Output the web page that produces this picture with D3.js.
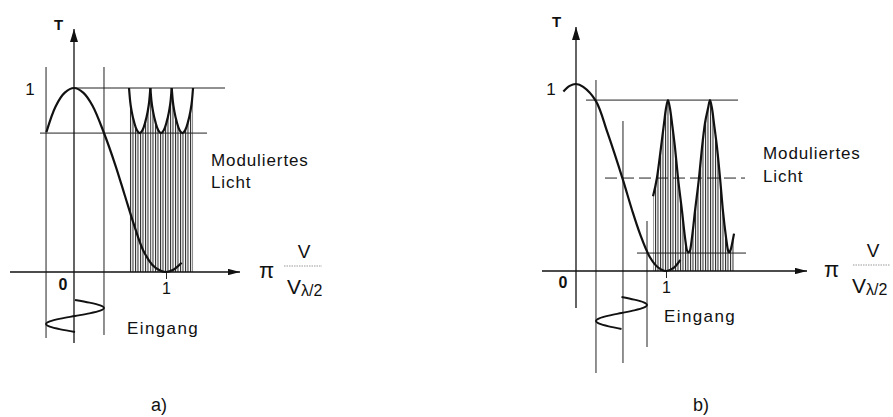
<!DOCTYPE html>
<html>
<head>
<meta charset="utf-8">
<script src="https://cdn.jsdelivr.net/npm/d3@7"></script>
<style>
  body { margin: 0; background: #fff; }
  text { font-family: "Liberation Sans", Arial, sans-serif; fill: #111; }
</style>
</head>
<body>
<div id="chart"></div>
<script>
// transfer curve T(u), u = pi V / V_lambda/2
var curveA = [[-0.30, 0.76], [-0.2, 0.9], [-0.1, 0.975], [0, 1], [0.1, 0.975], [0.2, 0.905],
  [0.33, 0.75], [0.45, 0.58], [0.55, 0.42], [0.65, 0.26], [0.75, 0.12], [0.85, 0.04],
  [0.93, 0.01], [1.0, 0], [1.08, 0.012], [1.17, 0.05]];
var curveB = [[-0.14, 0.96], [-0.07, 0.99], [0, 1], [0.08, 0.985], [0.22, 0.91], [0.35, 0.74],
  [0.52, 0.49], [0.62, 0.33], [0.71, 0.2], [0.82, 0.075], [0.91, 0.02], [1.0, 0],
  [1.08, 0.015], [1.16, 0.06]];

// modulated light, a): three arcs between the cusps
var lightA = [
  [[0.598, 1], [0.610, 0.93], [0.628, 0.87], [0.656, 0.81], [0.684, 0.77], [0.714, 0.755],
   [0.744, 0.77], [0.772, 0.81], [0.800, 0.87], [0.818, 0.93], [0.830, 1]],
  [[0.830, 1], [0.842, 0.93], [0.860, 0.87], [0.888, 0.81], [0.916, 0.77], [0.946, 0.755],
   [0.976, 0.77], [1.004, 0.81], [1.032, 0.87], [1.050, 0.93], [1.062, 1]],
  [[1.062, 1], [1.074, 0.93], [1.092, 0.87], [1.120, 0.81], [1.148, 0.77], [1.178, 0.755],
   [1.208, 0.77], [1.236, 0.81], [1.264, 0.87], [1.282, 0.93], [1.294, 1]]
];
// modulated light, b)
var lightB = [[0.856, 0.40], [0.900, 0.50], [0.944, 0.66], [0.978, 0.79], [1.000, 0.87],
  [1.022, 0.914], [1.044, 0.87], [1.067, 0.79], [1.100, 0.66], [1.133, 0.50], [1.178, 0.32],
  [1.211, 0.18], [1.233, 0.11], [1.250, 0.10], [1.267, 0.11], [1.289, 0.18], [1.322, 0.32],
  [1.367, 0.50], [1.400, 0.66], [1.433, 0.79], [1.467, 0.87], [1.489, 0.914], [1.511, 0.87],
  [1.533, 0.79], [1.567, 0.66], [1.600, 0.50], [1.633, 0.32], [1.667, 0.18], [1.689, 0.11],
  [1.700, 0.10], [1.722, 0.12], [1.744, 0.17], [1.756, 0.20]];

// input voltage, one period: phase and relative swing
var inputPhase = [0, 0.083, 0.167, 0.25, 0.333, 0.417, 0.5, 0.583, 0.667, 0.75, 0.833, 0.917, 1];
var inputSwing = [0, 0.5, 0.87, 1, 0.87, 0.5, 0, -0.5, -0.87, -1, -0.87, -0.5, 0];

// guide lines (u) and levels (T)
var guidesA = [-0.304, 0.326];
var guidesB = [0.222, 0.522, 0.789];
var levelsA = [1, 0.755];
var levelsB = [0.914, 0.497, 0.096];

var W = 893, H = 417;
var svg = d3.select("#chart").append("svg").attr("width", W).attr("height", H);
var defs = svg.append("defs");

function marker(id, len, half) {
  defs.append("marker")
    .attr("id", id)
    .attr("viewBox", "0 " + (-half) + " " + len + " " + (2 * half))
    .attr("refX", len).attr("refY", 0)
    .attr("markerWidth", len).attr("markerHeight", 2 * half)
    .attr("markerUnits", "userSpaceOnUse")
    .attr("orient", "auto")
    .append("path")
    .attr("d", "M0," + (-half) + "L" + len + ",0L0," + half + "Z")
    .attr("fill", "#111");
}
marker("arrowY", 13, 4);
marker("arrowX", 12, 3.2);

defs.append("pattern")
  .attr("id", "hatch")
  .attr("patternUnits", "userSpaceOnUse")
  .attr("width", 2.5).attr("height", 20)
  .append("rect")
  .attr("x", 0).attr("y", 0).attr("width", 1).attr("height", 20)
  .attr("fill", "#222");

defs.append("clipPath").attr("id", "clipA")
  .append("rect").attr("x", 0).attr("y", 0).attr("width", 322).attr("height", H);

function panel(p) {
  var g = svg.append("g");
  if (p.clip) g.attr("clip-path", "url(#" + p.clip + ")");
  var x = d3.scaleLinear().domain([0, 1]).range(p.xr);
  var y = d3.scaleLinear().domain([0, 1]).range(p.yr);

  // hatched modulated light
  var area = d3.area()
    .x(function(d) { return x(d[0]); })
    .y0(y(0))
    .y1(function(d) { return y(d[1]); })
    .curve(d3.curveMonotoneX);
  g.selectAll(".hatch")
    .data(p.light)
    .enter()
    .append("path")
    .attr("class", "hatch")
    .attr("d", area)
    .attr("fill", "url(#hatch)");

  // horizontal levels
  p.levels.forEach(function(t, i) {
    g.append("line")
      .attr("x1", p.levelExt[i][0]).attr("x2", p.levelExt[i][1])
      .attr("y1", y(t)).attr("y2", y(t))
      .attr("stroke", "#222").attr("stroke-width", 1)
      .attr("stroke-dasharray", p.dashed[i] ? "12,5" : null);
  });

  // vertical guides
  p.guides.forEach(function(u, i) {
    g.append("line")
      .attr("x1", x(u)).attr("x2", x(u))
      .attr("y1", p.guideExt[i][0]).attr("y2", p.guideExt[i][1])
      .attr("stroke", "#222").attr("stroke-width", 1);
  });

  // axes
  g.append("line")
    .attr("x1", p.axisX[0]).attr("x2", p.axisX[1])
    .attr("y1", y(0)).attr("y2", y(0))
    .attr("stroke", "#111").attr("stroke-width", 1.3)
    .attr("marker-end", "url(#arrowX)");
  g.append("line")
    .attr("x1", x(0)).attr("x2", x(0))
    .attr("y1", p.axisY[0]).attr("y2", p.axisY[1])
    .attr("stroke", "#111").attr("stroke-width", 1.3)
    .attr("marker-end", "url(#arrowY)");

  var xAxis = d3.axisBottom(x).tickValues([1]).tickFormat(d3.format("d"))
    .tickSize(7).tickPadding(4).tickSizeOuter(0);
  var ax = g.append("g")
    .attr("transform", "translate(0," + y(0) + ")")
    .call(xAxis);
  ax.select(".domain").remove();
  ax.selectAll("line").attr("stroke", "#222");
  ax.selectAll("text")
    .attr("font-size", 16)
    .attr("font-family", "Liberation Sans, Arial, sans-serif")
    .attr("fill", "#111");
  ax.attr("font-size", null).attr("font-family", null);

  // transfer curve
  var line = d3.line()
    .x(function(d) { return x(d[0]); })
    .y(function(d) { return y(d[1]); });
  g.append("path")
    .attr("d", line.curve(d3.curveCatmullRom)(p.curve))
    .attr("fill", "none").attr("stroke", "#111").attr("stroke-width", 2.2);

  // modulated light outline
  g.selectAll(".light")
    .data(p.light)
    .enter()
    .append("path")
    .attr("class", "light")
    .attr("d", line.curve(d3.curveMonotoneX))
    .attr("fill", "none").attr("stroke", "#111").attr("stroke-width", 2.2);

  // input signal, time running downward
  var tScale = d3.scaleLinear().domain([0, 1]).range(p.inputY);
  var lo = p.guides[0], hi = p.guides[p.guides.length - 1];
  var inPts = inputPhase.map(function(t, i) {
    return [lo + (inputSwing[i] + 1) / 2 * (hi - lo), t];
  });
  g.append("path")
    .attr("d", d3.line()
      .x(function(d) { return x(d[0]); })
      .y(function(d) { return tScale(d[1]); })
      .curve(d3.curveMonotoneY)(inPts))
    .attr("fill", "none").attr("stroke", "#111").attr("stroke-width", 1.8);

  // labels
  g.append("text").attr("x", p.tLab[0]).attr("y", p.tLab[1])
    .attr("text-anchor", "middle").attr("font-size", 15).attr("font-weight", "bold").text("T");
  g.append("text").attr("x", p.oneLab[0]).attr("y", p.oneLab[1])
    .attr("text-anchor", "middle").attr("font-size", 17).text("1");
  g.append("text").attr("x", p.zeroLab[0]).attr("y", p.zeroLab[1])
    .attr("text-anchor", "middle").attr("font-size", 16).attr("font-weight", "bold").text("0");
  g.append("text").attr("x", p.modLab[0]).attr("y", p.modLab[1])
    .attr("font-size", 17).attr("letter-spacing", 0.9).text("Moduliertes");
  g.append("text").attr("x", p.modLab[0]).attr("y", p.modLab[1] + p.modLab[2])
    .attr("font-size", 17).attr("letter-spacing", 0.9).text("Licht");
  g.append("text").attr("x", p.inLab[0]).attr("y", p.inLab[1])
    .attr("font-size", 17).attr("letter-spacing", 1.4).text("Eingang");
  g.append("text").attr("x", p.cap[0]).attr("y", p.cap[1])
    .attr("text-anchor", "middle").attr("font-size", 18).text(p.cap[2]);

  // pi V / V_lambda/2
  var f = p.frac;
  g.append("text").attr("x", f.pi).attr("y", y(0) + 6)
    .attr("font-family", "Liberation Serif, DejaVu Serif, serif").attr("font-size", 22)
    .text("\u03c0");
  g.append("text").attr("x", f.top).attr("y", y(0) - 14)
    .attr("text-anchor", "middle").attr("font-size", 19).text("V");
  g.append("line")
    .attr("x1", f.line[0]).attr("x2", f.line[1])
    .attr("y1", y(0) - 6).attr("y2", y(0) - 6)
    .attr("stroke", "#999").attr("stroke-width", 1).attr("stroke-dasharray", "1.5,1");
  var lowT = g.append("text").attr("x", f.low).attr("y", y(0) + 22).attr("font-size", 21);
  lowT.append("tspan").text("V");
  lowT.append("tspan").attr("font-size", 16).attr("dy", 2).text("\u03bb/2");
}

panel({
  clip: "clipA",
  xr: [74, 166], yr: [272, 88],
  axisX: [10, 240], axisY: [343, 29],
  curve: curveA, light: lightA,
  guides: guidesA, guideExt: [[67, 338], [67, 335]],
  levels: levelsA, levelExt: [[74, 225], [40, 207]], dashed: [false, false],
  inputY: [300, 332],
  tLab: [58.5, 30], oneLab: [30, 95], zeroLab: [63, 290],
  modLab: [211, 166, 22], inLab: [127, 334], cap: [159, 411, "a)"],
  frac: { pi: 259, top: 304, line: [284, 322], low: 287 }
});

panel({
  xr: [576, 666], yr: [271, 84],
  axisX: [542, 807], axisY: [308, 27],
  curve: curveB, light: [lightB],
  guides: guidesB, guideExt: [[80, 373], [121, 363], [221, 347]],
  levels: levelsB, levelExt: [[586, 738], [605, 745], [637, 746]], dashed: [false, true, false],
  inputY: [297, 329],
  tLab: [556.5, 27], oneLab: [551, 95], zeroLab: [563, 288],
  modLab: [763, 159, 23], inLab: [664, 322], cap: [701, 411, "b)"],
  frac: { pi: 824, top: 873, line: [853, 890], low: 852 }
});
</script>
</body>
</html>
